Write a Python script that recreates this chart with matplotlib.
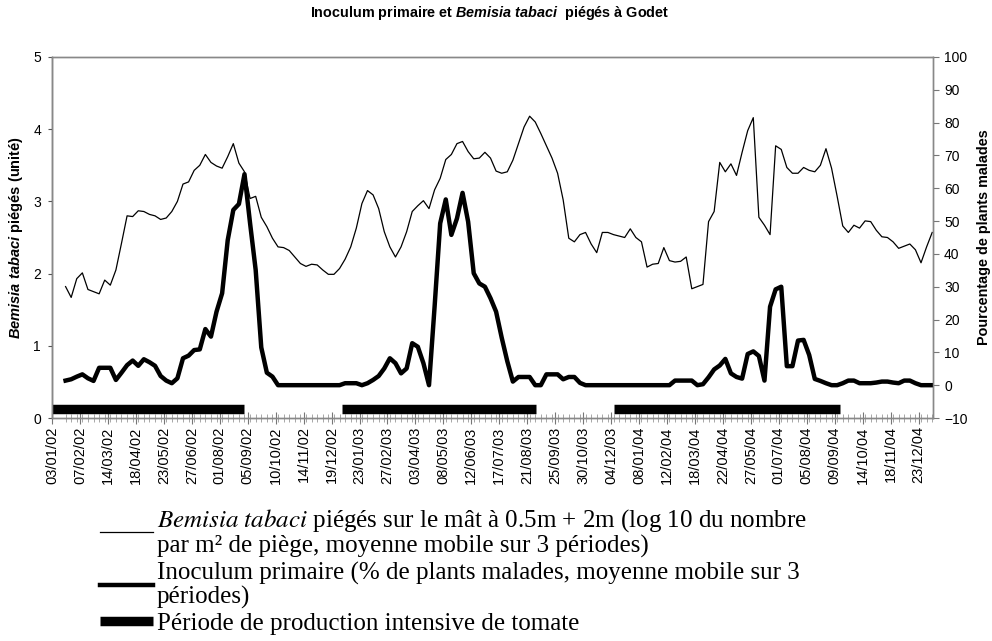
import numpy as np
import pandas as pd
import matplotlib
matplotlib.use("Agg")
import matplotlib.pyplot as plt
import matplotlib.dates as mdates
from matplotlib.font_manager import FontProperties

plt.rcParams['font.family'] = ['Liberation Sans', 'DejaVu Sans']
plt.rcParams['mathtext.fontset'] = 'custom'
plt.rcParams['mathtext.rm'] = 'Liberation Sans:bold'
plt.rcParams['mathtext.it'] = 'Liberation Sans:italic:bold'
plt.rcParams['mathtext.bf'] = 'Liberation Sans:bold'

# Bemisia tabaci piégés (log10, moyenne mobile), une valeur par semaine
bemisia = [
    1.82, 1.67, 1.93, 2.01, 1.78, 1.75, 1.72, 1.91, 1.84, 2.05,
    2.42, 2.80, 2.79, 2.87, 2.86, 2.82, 2.80, 2.75, 2.77, 2.86,
    3.00, 3.24, 3.27, 3.43, 3.50, 3.65, 3.54, 3.49, 3.46, 3.62,
    3.80, 3.53, 3.41, 3.04, 3.07, 2.78, 2.65, 2.49, 2.37,
    2.36, 2.32, 2.23, 2.14, 2.10, 2.13, 2.12, 2.05, 1.99, 1.99, 2.07,
    2.20, 2.37, 2.63, 2.97, 3.15, 3.09, 2.90, 2.58, 2.37, 2.23,
    2.37, 2.58, 2.86, 2.94, 3.01, 2.90, 3.16, 3.32, 3.58, 3.65,
    3.80, 3.83, 3.69, 3.59, 3.60, 3.68, 3.60, 3.42, 3.39, 3.41,
    3.57, 3.80, 4.03, 4.18, 4.10, 3.94, 3.77, 3.60, 3.39, 3.02,
    2.49, 2.44, 2.54, 2.57, 2.41, 2.29, 2.57, 2.57, 2.54, 2.52,
    2.50, 2.62, 2.50, 2.44, 2.09, 2.13, 2.14, 2.36, 2.18, 2.16,
    2.17, 2.23, 1.79, 1.82, 1.85, 2.72, 2.86, 3.54, 3.41, 3.52,
    3.36, 3.68, 3.98, 4.16, 2.78, 2.67, 2.54, 3.77, 3.72, 3.47,
    3.39, 3.39, 3.47, 3.43, 3.41, 3.50, 3.73, 3.46, 3.07, 2.66,
    2.57, 2.67, 2.63, 2.73, 2.72, 2.60, 2.51, 2.50, 2.44, 2.35,
    2.38, 2.41, 2.33, 2.15, 2.37, 2.57,
]

# Inoculum primaire (% de plants malades, moyenne mobile)
inoculum = [
    1.4, 1.8, 2.6, 3.3, 2.1, 1.3, 5.3, 5.3, 5.3, 1.6,
    3.8, 6.1, 7.5, 5.9, 7.9, 7.0, 5.9, 2.8, 1.4, 0.6,
    2.1, 8.2, 9.0, 10.7, 10.9, 17.1, 14.8, 22.4, 28.0, 44.2,
    53.4, 55.2, 64.3, 49.3, 35.1, 11.5, 3.8, 2.6, 0.0,
    0.0, 0.0, 0.0, 0.0, 0.0, 0.0, 0.0, 0.0, 0.0, 0.0, 0.0,
    0.6, 0.6, 0.6, 0.0, 0.6, 1.6, 2.8, 5.1, 8.2, 6.7,
    3.6, 5.1, 12.8, 11.7, 6.7, 0.0, 23.9, 49.3, 56.6, 45.8,
    50.8, 58.6, 49.8, 34.1, 31.0, 30.0, 26.5, 22.4, 14.5, 7.3,
    1.1, 2.5, 2.5, 2.5, 0.0, 0.0, 3.3, 3.3, 3.3, 1.8,
    2.5, 2.5, 0.7, 0.0, 0.0, 0.0, 0.0, 0.0, 0.0, 0.0,
    0.0, 0.0, 0.0, 0.0, 0.0, 0.0, 0.0, 0.0, 0.0, 1.4,
    1.4, 1.4, 1.4, 0.0, 0.3, 2.4, 4.8, 6.0, 8.0, 3.6,
    2.5, 2.0, 9.5, 10.3, 8.9, 1.4, 23.9, 29.2, 30.0, 5.8,
    5.8, 13.6, 13.8, 9.2, 1.9, 1.3, 0.6, 0.0, 0.0, 0.6,
    1.4, 1.4, 0.6, 0.6, 0.6, 0.8, 1.1, 1.1, 0.8, 0.6,
    1.4, 1.4, 0.6, 0.0, 0.0, 0.0,
]

# périodes de production intensive de tomate
prod_debut = ['03/01/02', '01/01/03', '08/12/03']
prod_fin = ['01/09/02', '01/09/03', '15/09/04']

etiquettes = [
    '03/01/02', '07/02/02', '14/03/02', '18/04/02', '23/05/02', '27/06/02',
    '01/08/02', '05/09/02', '10/10/02', '14/11/02', '19/12/02', '23/01/03',
    '27/02/03', '03/04/03', '08/05/03', '12/06/03', '17/07/03', '21/08/03',
    '25/09/03', '30/10/03', '04/12/03', '08/01/04', '12/02/04', '18/03/04',
    '22/04/04', '27/05/04', '01/07/04', '05/08/04', '09/09/04', '14/10/04',
    '18/11/04', '23/12/04',
]

dates = mdates.date2num(pd.date_range('2002-01-20', periods=len(bemisia), freq='7D'))
tick_pos = mdates.date2num(pd.to_datetime(etiquettes, format='%d/%m/%y'))
deb = mdates.date2num(pd.to_datetime(prod_debut, format='%d/%m/%y'))
fin = mdates.date2num(pd.to_datetime(prod_fin, format='%d/%m/%y'))

fig = plt.figure(figsize=(9.92, 6.41), dpi=100)
ax = fig.add_axes([52/992, 1 - 418/641, 881/992, 361/641])
ax2 = ax.twinx()

l1, = ax.plot(dates, bemisia, color='black', lw=0.9)
bars = ax.hlines([0.12] * len(deb), deb, fin, color='black', lw=6.8, capstyle='butt')
l2, = ax2.plot(dates, inoculum, color='black', lw=3.2, solid_joinstyle='round')

ax.set_xlim(mdates.date2num(pd.Timestamp('2002-01-03')), mdates.date2num(pd.Timestamp('2005-01-10')))
ax.set_ylim(0, 5)
ax2.set_ylim(-10, 100)
ax.set_yticks(range(0, 6))
ax2.set_yticks(range(-10, 101, 10))

ax.set_xticks(tick_pos)
ax.set_xticklabels(etiquettes, rotation=90, fontsize=10.5)
ax.set_xticks(dates, minor=True)
ax.tick_params(axis='x', which='major', direction='inout', length=8, color='#777777', pad=2)
ax.tick_params(axis='x', which='minor', direction='inout', length=6, color='#999999')
ax.tick_params(axis='y', direction='out', length=3, color='#555555', labelsize=10, pad=5)
ax2.tick_params(axis='y', direction='out', length=4, color='#777777', labelsize=10, pad=4)

for a in (ax, ax2):
    for s in a.spines.values():
        s.set_color('#888888')
        s.set_linewidth(1)
ax.spines['left'].set_color('#444444')

ax.set_ylabel(r'$\mathit{Bemisia\ tabaci}$ piégés (unité)', fontsize=10.5, fontweight='bold')
ax.yaxis.set_label_coords(-0.031, 0.5)
ax2.set_ylabel('Pourcentage de plants malades', fontsize=10.4, fontweight='bold')
ax2.yaxis.set_label_coords(1.05, 0.5)

fig.text(0.494, 1 - 13/641, r'Inoculum primaire et $\mathit{Bemisia\ tabaci}$  piégés à Godet',
         ha='center', va='center', fontsize=10.4, fontweight='bold')

prop = FontProperties(family='Liberation Serif', size=18, math_fontfamily='stix')
leg = fig.legend([l1, l2, bars],
                 [r'$\mathit{Bemisia\ tabaci}$ piégés sur le mât à 0.5m + 2m (log 10 du nombre' + '\npar m² de piège, moyenne mobile sur 3 périodes)',
                  'Inoculum primaire (% de plants malades, moyenne mobile sur 3\npériodes)',
                  'Période de production intensive de tomate'],
                 loc='upper left', bbox_to_anchor=(100/992, 1 - 507/641), frameon=False,
                 prop=prop, handlelength=2.12, handletextpad=0.16, borderpad=0,
                 borderaxespad=0, labelspacing=0.15)
for t in leg.get_texts():
    t.set_linespacing(1.05)

fig.savefig('out.png', dpi=100)
